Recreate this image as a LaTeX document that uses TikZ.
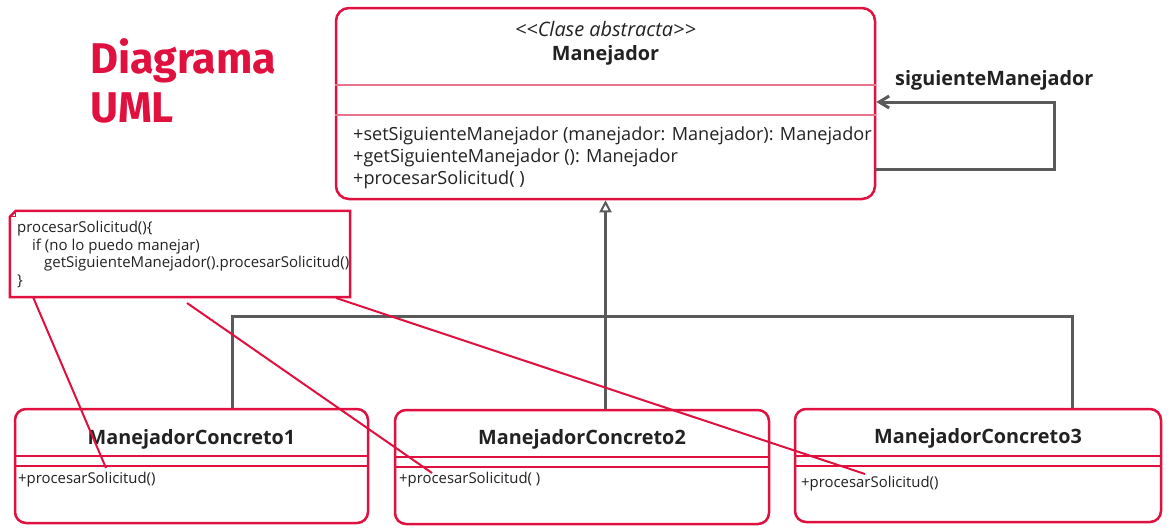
\documentclass[tikz,border=0pt]{standalone}
\usepackage{fontspec}
\setmainfont{Open Sans}
\newfontfamily\titulofont{Fira Sans}
\usepackage{tikz}
\usetikzlibrary{arrows.meta}
\definecolor{rojo}{HTML}{E0103F}
\definecolor{rosa}{HTML}{E8738C}
\definecolor{gris}{HTML}{5A5A5A}
\definecolor{texto}{HTML}{222222}
\tikzset{clase/.style={draw=rojo, line width=2.5pt, rounded corners=13pt, fill=white}}
\tikzset{nota/.style={inner sep=0pt}}
\tikzset{txt/.style={inner sep=0pt, text=texto}}
\tikzset{linea/.style={draw=gris, line width=3pt}}
\tikzset{herencia/.style={linea, -{Triangle[open,length=12pt,width=12pt,line width=2pt]}}}
\tikzset{asoc/.style={linea, -{Straight Barb[length=10pt,width=12pt]}}}
\tikzset{enlace/.style={draw=rojo, line width=2pt}}
\tikzset{division/.style={draw=rosa, line width=1.2pt}}
\newcommand{\metodo}{\fontsize{18.1}{22}\selectfont}
\newcommand{\clasefont}{\bfseries\fontsize{19.8}{22}\selectfont}
\begin{document}
\begin{tikzpicture}[x=1pt,y=-1pt]
\useasboundingbox (0,0) rectangle (1172,531);

% titulo
\node[txt, anchor=base west, text=rojo, font=\titulofont\bfseries\fontsize{43}{44}\selectfont] (tit1) at (90,73) {Diagrama};
\node[txt, anchor=base west, text=rojo, font=\titulofont\bfseries\fontsize{43}{44}\selectfont] (tit2) at (90,122) {UML};

% clase abstracta
\node[clase, minimum width=539pt, minimum height=191pt] (man) at (605.5,103.5) {};
\draw[division] (man.west |- 0,85) -- (man.east |- 0,85);
\draw[division] (man.west |- 0,115) -- (man.east |- 0,115);
\node[txt, anchor=base, font=\itshape\fontsize{19.9}{22}\selectfont] (estereo) at (605.5,36) {<{}<Clase abstracta>{}>};
\node[txt, anchor=base, font=\clasefont] (nman) at (605.5,60) {Manejador};
\node[txt, anchor=base west, font=\metodo] (m1) at (353,140) {+setSiguienteManejador (manejador: Manejador): Manejador};
\node[txt, anchor=base west, font=\metodo] (m2) at (353,162) {+getSiguienteManejador (): Manejador};
\node[txt, anchor=base west, font=\metodo] (m3) at (353,184) {+procesarSolicitud( )};

% auto-asociacion
\coordinate (vuelta) at (1054,102);
\draw[asoc] ([yshift=-66pt]man.east) -| (vuelta) -- (man.east |- vuelta);
\node[txt, anchor=base west, font=\clasefont] (rol) at (895,85) {siguienteManejador};

% nota
\node[nota, minimum width=340pt, minimum height=86pt] (nota) at (180,254) {};
\draw[rojo, line width=2.5pt] ([yshift=-6pt]nota.north west) -- ([xshift=6pt]nota.north west) -- (nota.north east) -- (nota.south east) -- (nota.south west) -- cycle;
\draw[rojo, line width=1pt] ([yshift=-6pt]nota.north west) -- ([xshift=6pt,yshift=-6pt]nota.north west) -- ([xshift=6pt]nota.north west);
\node[txt, anchor=base west, font=\fontsize{15}{17}\selectfont] (n1) at (17,232) {procesarSolicitud()\{};
\node[txt, anchor=base west, font=\fontsize{15}{17}\selectfont] (n2) at (32,250) {if (no lo puedo manejar)};
\node[txt, anchor=base west, font=\fontsize{15}{17}\selectfont] (n3) at (44,267) {getSiguienteManejador().procesarSolicitud()};
\node[txt, anchor=base west, font=\fontsize{15}{17}\selectfont] (n4) at (17,285) {\}};

% clases concretas
\node[clase, rounded corners=11pt, minimum width=353pt, minimum height=114pt] (c1) at (191.5,466) {};
\node[clase, rounded corners=11pt, minimum width=374pt, minimum height=114pt] (c2) at (582,467) {};
\node[clase, rounded corners=11pt, minimum width=366pt, minimum height=113pt] (c3) at (978,465.5) {};
\draw[division, draw=rojo] (c1.west |- 0,456) -- (c1.east |- 0,456);
\draw[division, draw=rojo] (c1.west |- 0,466) -- (c1.east |- 0,466);
\draw[division, draw=rojo] (c2.west |- 0,457) -- (c2.east |- 0,457);
\draw[division, draw=rojo] (c2.west |- 0,467) -- (c2.east |- 0,467);
\draw[division, draw=rojo] (c3.west |- 0,456) -- (c3.east |- 0,456);
\draw[division, draw=rojo] (c3.west |- 0,466) -- (c3.east |- 0,466);
\node[txt, anchor=base, font=\clasefont] (nc1) at (191.5,444) {ManejadorConcreto1};
\node[txt, anchor=base, font=\clasefont] (nc2) at (582,444) {ManejadorConcreto2};
\node[txt, anchor=base, font=\clasefont] (nc3) at (978,443) {ManejadorConcreto3};
\node[txt, anchor=base west, font=\fontsize{14.9}{18}\selectfont] (p1) at (18,483) {+procesarSolicitud()};
\node[txt, anchor=base west, font=\fontsize{14.9}{18}\selectfont] (p2) at (399,483) {+procesarSolicitud( )};
\node[txt, anchor=base west, font=\fontsize{14.9}{18}\selectfont] (p3) at (801,487) {+procesarSolicitud()};

% herencia
\coordinate (b1) at (232,316);
\coordinate (b2) at (605.5,316);
\coordinate (b3) at (1072,316);
\draw[linea] (b1 |- c1.north) -- (b1) -- (b3) -- (b3 |- c3.north);
\draw[herencia] (b2 |- c2.north) -- (man.south);

% enlaces de la nota
\coordinate (e1) at (33,297);
\coordinate (e2) at (187,303);
\coordinate (e3) at (336,298);
\coordinate (f1) at (106,468);
\coordinate (f2) at (432,473);
\coordinate (f3) at (865,474);
\draw[enlace] (e1) -- (f1);
\draw[enlace] (e2) -- (f2);
\draw[enlace] (e3) -- (f3);

\end{tikzpicture}
\end{document}
